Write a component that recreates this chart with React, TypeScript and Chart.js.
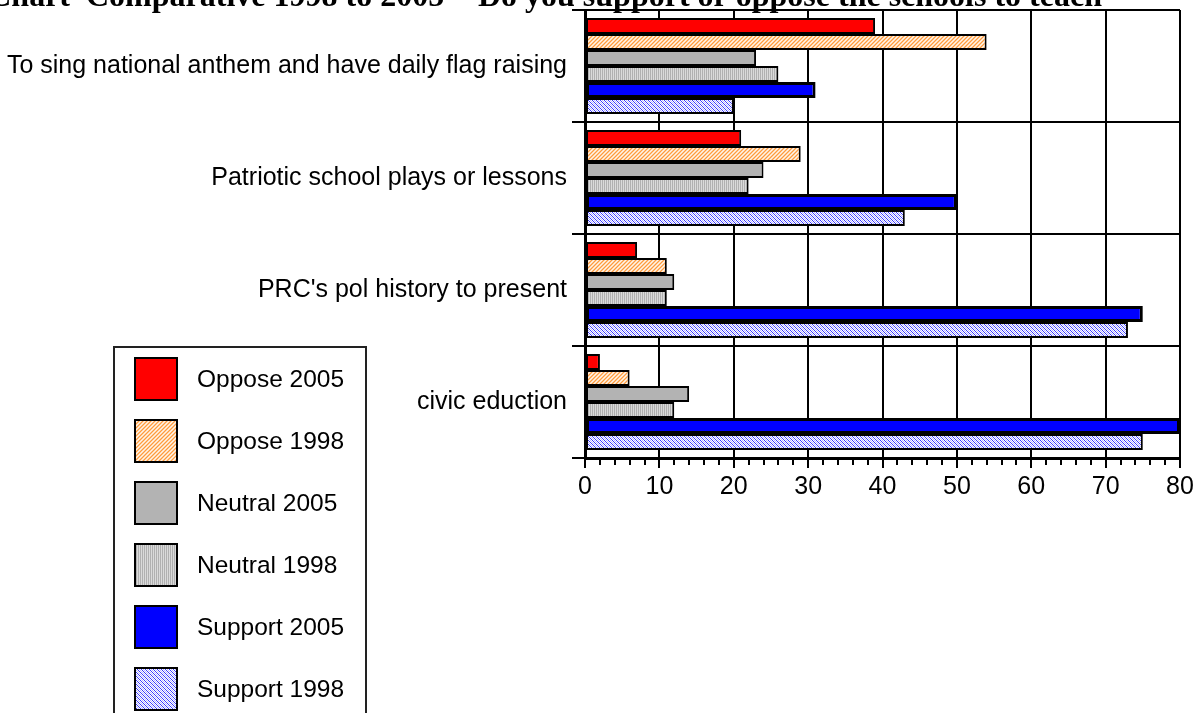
import React, { useEffect, useRef } from 'react';
import { Chart, registerables } from 'chart.js';

Chart.register(...registerables);

const categories = [
  'To sing national anthem and have daily flag raising',
  'Patriotic school plays or lessons',
  "PRC's pol history to present",
  'civic eduction',
];
const seriesLabels = ['Oppose 2005', 'Oppose 1998', 'Neutral 2005', 'Neutral 1998', 'Support 2005', 'Support 1998'];
const oppose2005 = [39, 21, 7, 2];
const oppose1998 = [54, 29, 11, 6];
const neutral2005 = [23, 24, 12, 14];
const neutral1998 = [26, 22, 11, 12];
const support2005 = [31, 50, 75, 80];
const support1998 = [20, 43, 73, 75];
const xTicks = [0, 10, 20, 30, 40, 50, 60, 70, 80];

const TITLE = 'Chart  Comparative 1998 to 2005  "Do you support or oppose the schools to teach"';
const SANS = "'Liberation Sans', Arial, sans-serif";

function makePattern(w: number, h: number, fn: (c: CanvasRenderingContext2D) => void) {
  const c = document.createElement('canvas');
  c.width = w;
  c.height = h;
  const x = c.getContext('2d')!;
  fn(x);
  return x.createPattern(c, 'repeat')!;
}

export default function App() {
  const ref = useRef<HTMLCanvasElement>(null);

  useEffect(() => {
    const canvas = ref.current!;
    const orangeHatch = makePattern(4, 4, (c) => {
      c.fillStyle = '#ffd0a0';
      c.fillRect(0, 0, 4, 4);
      c.fillStyle = '#ff9a3c';
      for (let i = 0; i < 4; i++) c.fillRect(i, 3 - i, 1, 1);
      c.fillStyle = '#fff4ea';
      for (let i = 0; i < 4; i++) c.fillRect(i, (5 - i) % 4, 1, 1);
    });
    const grayStripe = makePattern(2, 2, (c) => {
      c.fillStyle = '#dadada';
      c.fillRect(0, 0, 2, 2);
      c.fillStyle = '#b0b0b0';
      c.fillRect(0, 0, 1, 2);
    });
    const blueHatch = makePattern(4, 4, (c) => {
      c.fillStyle = '#ffffff';
      c.fillRect(0, 0, 4, 4);
      c.fillStyle = '#3a3aff';
      for (let i = 0; i < 4; i++) c.fillRect(i, i, 1, 1);
      c.fillStyle = '#b8b8ff';
      for (let i = 0; i < 4; i++) c.fillRect(i, (i + 2) % 4, 1, 1);
    });

    const seriesData = [oppose2005, oppose1998, neutral2005, neutral1998, support2005, support1998];
    const fills: any[] = ['#ff0000', orangeHatch, '#b3b3b3', grayStripe, '#0000ff', blueHatch];

    const extras = {
      id: 'extras',
      afterDraw(chart: any) {
        const ctx = chart.ctx as CanvasRenderingContext2D;
        const xs = chart.scales.x;
        const bottom = chart.chartArea.bottom;
        ctx.save();
        // minor ticks
        ctx.strokeStyle = '#000';
        ctx.lineWidth = 2;
        for (let v = 0; v <= 80; v += 2) {
          if (v % 10 === 0) continue;
          const px = Math.round(xs.getPixelForValue(v));
          ctx.beginPath();
          ctx.moveTo(px, bottom);
          ctx.lineTo(px, bottom + 7);
          ctx.stroke();
        }
        // title
        ctx.font = 'bold 32px "Liberation Serif", "Times New Roman", serif';
        ctx.fillStyle = '#000';
        ctx.textBaseline = 'alphabetic';
        ctx.textAlign = 'left';
        const pre = ctx.measureText('Chart  ').width;
        ctx.fillText(TITLE, 86 - pre, 6);
        // legend
        const lx = 114, ly = 347, lw = 252;
        ctx.fillStyle = '#fff';
        ctx.fillRect(lx, ly, lw, 400);
        ctx.strokeStyle = '#222';
        ctx.lineWidth = 2;
        ctx.strokeRect(lx, ly, lw, 400);
        ctx.font = `24.5px ${SANS}`;
        ctx.textBaseline = 'middle';
        chart.data.datasets.forEach((ds: any, i: number) => {
          const sy = 358 + i * 62;
          ctx.fillStyle = ds.backgroundColor;
          ctx.fillRect(135, sy, 42, 42);
          ctx.strokeStyle = '#000';
          ctx.lineWidth = 2;
          ctx.strokeRect(135, sy, 42, 42);
          ctx.fillStyle = '#000';
          ctx.fillText(ds.label, 197, sy + 22);
        });
        ctx.restore();
      },
    };

    const chart = new Chart(canvas, {
      type: 'bar',
      data: {
        labels: categories,
        datasets: seriesLabels.map((label, i) => ({
          label,
          data: seriesData[i],
          backgroundColor: fills[i],
          borderColor: '#000',
          borderWidth: i === 4 ? 3 : 2,
          borderSkipped: false,
          barPercentage: 1,
          categoryPercentage: 0.857,
        })),
      },
      options: {
        indexAxis: 'y',
        responsive: false,
        animation: false,
        layout: { padding: { top: 10, left: 0, right: 14, bottom: 0 } },
        plugins: {
          legend: { display: false },
          title: { display: false },
          tooltip: { enabled: false },
        },
        scales: {
          x: {
            type: 'linear',
            min: 0,
            max: 80,
            afterBuildTicks: (scale: any) => {
              scale.ticks = xTicks.map((v) => ({ value: v }));
            },
            ticks: {
              color: '#000',
              font: { family: SANS, size: 25 },
              padding: 4,
              maxRotation: 0,
            },
            grid: { color: '#000', lineWidth: 2, tickLength: 10, tickColor: '#000', tickWidth: 2 },
            border: { color: '#000', width: 3 },
            afterFit: (scale: any) => {
              scale.height = 255;
              scale.paddingRight = 0;
              scale.paddingLeft = 0;
            },
          },
          y: {
            type: 'category',
            ticks: {
              color: '#000',
              font: { family: SANS, size: 25 },
              padding: 5,
            },
            grid: { color: '#000', lineWidth: 2, offset: true, tickLength: 13, tickColor: '#000', tickWidth: 2 },
            border: { color: '#000', width: 3 },
            afterFit: (scale: any) => {
              scale.width = 585;
              scale.paddingTop = 0;
              scale.paddingBottom = 0;
            },
          },
        },
      } as any,
      plugins: [extras],
    });
    return () => chart.destroy();
  }, []);

  return (
    <div style={{ position: 'absolute', left: 0, top: 0, width: 1194, height: 713, background: '#fff' }}>
      <canvas ref={ref} width={1194} height={713} style={{ display: 'block' }} />
    </div>
  );
}
